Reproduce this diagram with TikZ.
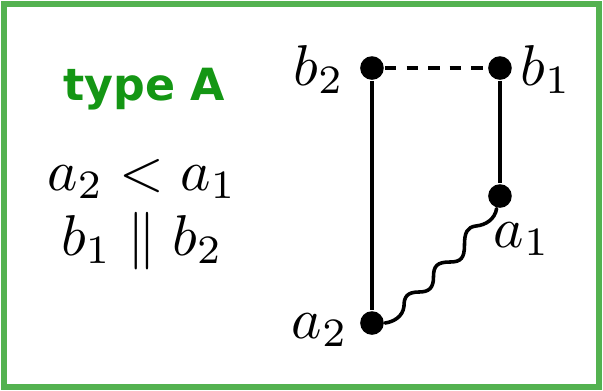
\documentclass[tikz,border=0pt]{standalone}
\usepackage{fontspec}
\newfontfamily\typefont{DejaVu Sans}
\definecolor{framegreen}{RGB}{84,178,80}
\definecolor{textgreen}{RGB}{20,150,20}
\begin{document}
\begin{tikzpicture}[x=0.0061cm,y=-0.0061cm,
  dot/.style={circle,fill=black,inner sep=0pt,minimum size=4.1pt},
  edge/.style={line width=0.62pt},
  lbl/.style={anchor=base,inner sep=0pt}]
\useasboundingbox (0,0) rectangle (603,391);
\draw[framegreen,line width=1.05pt] (4,4) rectangle (599,387);
\node[lbl,text=textgreen] (title) at (144,100) {\typefont\bfseries\fontsize{7.7}{9}\selectfont type A};
\node[lbl] (rel1) at (142,190) {$a_2 < a_1$};
\node[lbl] (rel2) at (142,255) {$b_1 \parallel b_2$};
\node[dot] (b2) at (372,68) {};
\node[dot] (b1) at (500,68) {};
\node[dot] (a1) at (500,196) {};
\node[dot] (a2) at (372,323) {};
\node[lbl] (lb2) at (319,85) {$b_2$};
\node[lbl] (lb1) at (546,85) {$b_1$};
\node[lbl] (la1) at (522,247) {$a_1$};
\node[lbl] (la2) at (320,338) {$a_2$};
\draw[edge] (b2) -- (a2);
\draw[edge] (b1) -- (a1);
\draw[edge,dash pattern=on 2pt off 1.75pt] (b2) -- (b1);
\draw[edge,line cap=round]
  (a2.east) .. controls (393,322) and (403,317) .. (404,306)
  .. controls (404,297) and (407,292) .. (419,292)
  .. controls (429,292) and (433.5,288) .. (433.5,277)
  .. controls (433.5,266) and (437,262) .. (450,262)
  .. controls (461,262) and (464.5,258) .. (464.5,245)
  .. controls (464.5,233) and (467,227) .. (476,226)
  .. controls (486,225) and (495,219) .. (a1.255);
\end{tikzpicture}
\end{document}
